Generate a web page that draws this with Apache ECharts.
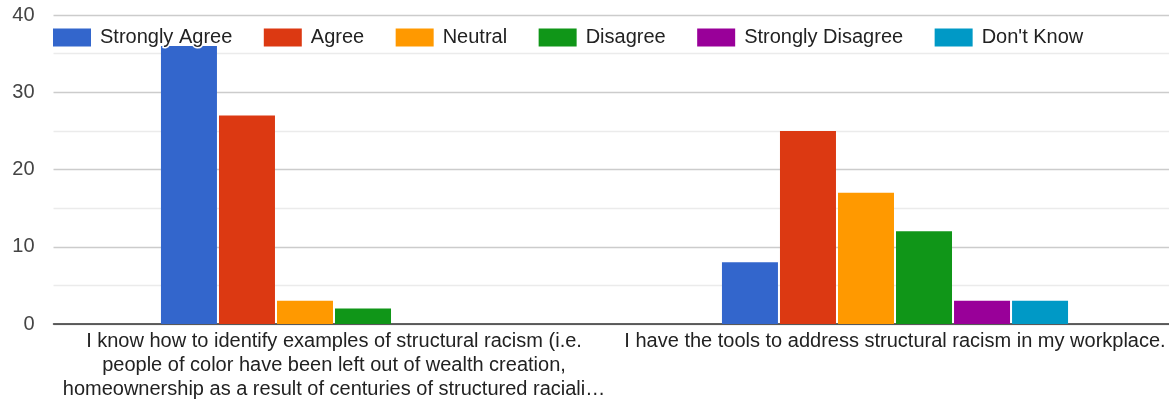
<!DOCTYPE html>
<html><head><meta charset="utf-8">
<script src="https://cdn.jsdelivr.net/npm/echarts@6/dist/echarts.min.js"></script>
<style>html,body{margin:0;padding:0;background:#fff}#c{width:1169px;height:402px}</style>
</head><body><div id="c"></div>
<script>
const categories = [
  "I know how to identify examples of structural racism (i.e.\npeople of color have been left out of wealth creation,\nhomeownership as a result of centuries of structured raciali…",
  "I have the tools to address structural racism in my workplace."
];
const seriesNames = ["Strongly Agree", "Agree", "Neutral", "Disagree", "Strongly Disagree", "Don't Know"];
const stronglyAgree = [36, 8];
const agree = [27, 25];
const neutral = [3, 17];
const disagree = [2, 12];
const stronglyDisagree = [0, 3];
const dontKnow = [0, 3];
const colors = ["#3366cc", "#dc3912", "#ff9900", "#109618", "#990099", "#0099c6"];
const values = [stronglyAgree, agree, neutral, disagree, stronglyDisagree, dontKnow];

const font = "Arial, 'Liberation Sans', sans-serif";
const chart = echarts.init(document.getElementById('c'));
chart.setOption({
  animation: false,
  color: colors,
  textStyle: { fontFamily: font },
  legend: {
    left: 48, top: 21,
    itemWidth: 38, itemHeight: 18, itemGap: 30,
    icon: 'rect',
    textStyle: { fontSize: 20, color: '#222', fontFamily: font, textBorderColor: '#fff', textBorderWidth: 3, padding: [0, 0, 0, 4] },
    data: seriesNames
  },
  grid: { left: 53.5, top: 15, right: -6.5, height: 309, outerBoundsMode: 'none' },
  xAxis: {
    type: 'category',
    data: categories,
    axisLine: { lineStyle: { color: '#333', width: 1.5 } },
    axisTick: { show: false },
    axisLabel: { fontSize: 20, color: '#222', lineHeight: 24, margin: 5, interval: 0, fontFamily: font }
  },
  yAxis: {
    type: 'value', min: 0, max: 40, interval: 10,
    axisLine: { show: false }, axisTick: { show: false },
    axisLabel: { fontSize: 20, color: '#444', margin: 19, fontFamily: font },
    splitLine: { lineStyle: { color: '#cccccc', width: 1.3 } },
    minorTick: { show: false, splitNumber: 2 },
    minorSplitLine: { show: true, lineStyle: { color: '#ebebeb', width: 1.3 } }
  },
  series: seriesNames.map((n, i) => ({
    name: n, type: 'bar', data: values[i],
    barWidth: 56, barGap: '3.6%',
    itemStyle: { color: colors[i] }
  }))
});
</script></body></html>
